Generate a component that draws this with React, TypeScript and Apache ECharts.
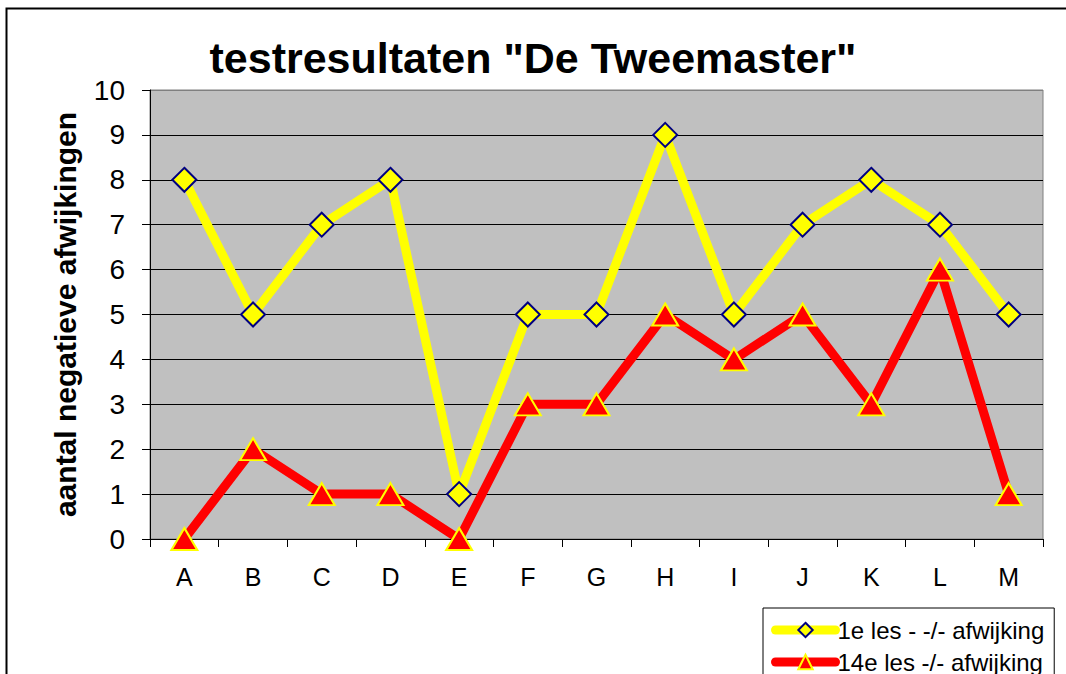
import React, { useEffect, useRef } from "react";
import * as echarts from "echarts";

const categories = ["A", "B", "C", "D", "E", "F", "G", "H", "I", "J", "K", "L", "M"];
const les1 = [8, 5, 7, 8, 1, 5, 5, 9, 5, 7, 8, 7, 5];
const les14 = [0, 2, 1, 1, 0, 3, 3, 5, 4, 5, 3, 6, 1];
const seriesNames = ["1e les - -/- afwijking", "14e les -/- afwijking"];
const titleText = 'testresultaten "De Tweemaster"';
const yAxisName = "aantal negatieve afwijkingen";

const FONT = "'Liberation Sans', Arial, sans-serif";

export default function App() {
  const ref = useRef<HTMLDivElement>(null);
  useEffect(() => {
    if (!ref.current) return;
    const chart = echarts.init(ref.current, undefined, { renderer: "svg" });
    const splitColors = Array.from({ length: 11 }, (_, i) => (i === 10 ? "#808080" : "#000000"));
    chart.setOption({
      animation: false,
      backgroundColor: "#ffffff",
      textStyle: { fontFamily: FONT },
      graphic: [
        {
          type: "rect",
          shape: { x: 6.5, y: 8.5, width: 1200, height: 800 },
          style: { fill: "none", stroke: "#000", lineWidth: 2 },
          silent: true,
          z: -10,
        },
      ],
      title: {
        text: titleText,
        left: "center",
        top: 31,
        textStyle: { fontFamily: FONT, fontSize: 43, fontWeight: "bold", color: "#000" },
      },
      grid: {
        left: 150,
        top: 90,
        right: 23,
        bottom: 135,
        show: true,
        backgroundColor: "#c0c0c0",
        borderColor: "#808080",
        borderWidth: 1,
      },
      legend: {
        orient: "vertical",
        left: 763,
        top: 608,
        height: 200,
        padding: [10, 10, 10, 8],
        itemWidth: 60,
        itemHeight: 18,
        itemGap: 8,
        backgroundColor: "#fff",
        borderColor: "#000",
        borderWidth: 1,
        lineStyle: { width: "inherit", cap: "round" },
        textStyle: { fontFamily: FONT, fontSize: 24, lineHeight: 24, color: "#000", padding: [0, 0, 0, -3] },
        data: seriesNames,
      },
      xAxis: {
        type: "category",
        data: categories,
        boundaryGap: true,
        axisLine: { lineStyle: { color: "#000", width: 1 } },
        axisTick: { show: true, length: 8, lineStyle: { color: "#000" } },
        axisLabel: { fontFamily: FONT, fontSize: 25, color: "#000", margin: 25 },
      },
      yAxis: {
        type: "value",
        min: 0,
        max: 10,
        interval: 1,
        name: yAxisName,
        nameLocation: "middle",
        nameGap: 70,
        nameTextStyle: { fontFamily: FONT, fontSize: 30, fontWeight: "bold", color: "#000" },
        axisLine: { show: true, lineStyle: { color: "#000", width: 1 } },
        axisTick: { show: true, length: 8, lineStyle: { color: "#000" } },
        axisLabel: { fontFamily: FONT, fontSize: 28, color: "#000", margin: 25 },
        splitLine: { show: true, lineStyle: { color: splitColors, width: 1 } },
      },
      series: [
        {
          name: seriesNames[0],
          type: "line",
          data: les1,
          symbol: "diamond",
          symbolSize: 24,
          lineStyle: { color: "#ffff00", width: 9 },
          itemStyle: { color: "#ffff00", borderColor: "#000080", borderWidth: 2 },
          z: 3,
        },
        {
          name: seriesNames[1],
          type: "line",
          data: les14,
          symbol: "triangle",
          symbolSize: [26, 22],
          lineStyle: { color: "#ff0000", width: 9 },
          itemStyle: { color: "#ff0000", borderColor: "#ffff00", borderWidth: 2 },
          z: 4,
        },
      ],
    });
    return () => chart.dispose();
  }, []);
  return (
    <div
      ref={ref}
      style={{ position: "fixed", left: 0, top: 0, width: 1066, height: 674 }}
    />
  );
}
